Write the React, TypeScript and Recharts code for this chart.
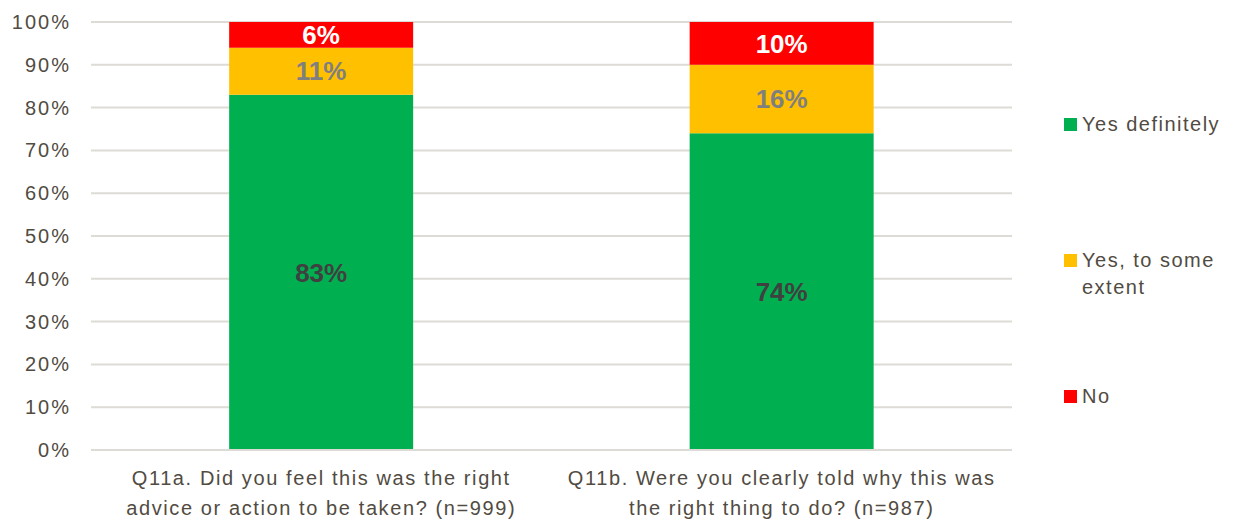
import React from 'react';
import { BarChart, Bar, XAxis, YAxis, CartesianGrid, LabelList } from 'recharts';

const questions = [
  ['Q11a. Did you feel this was the right', 'advice or action to be taken? (n=999)'],
  ['Q11b. Were you clearly told why this was', 'the right thing to do? (n=987)'],
];
const yesDefinitely = [83, 74];
const yesSomeExtent = [11, 16];
const no = [6, 10];
const yTicks = [0, 10, 20, 30, 40, 50, 60, 70, 80, 90, 100];

const FONT = '"Liberation Sans", Arial, sans-serif';
const TEXT = '#514b42';

const series = [
  { key: 'yes', name: 'Yes definitely', color: '#00b050', label: '#404040' },
  { key: 'some', name: 'Yes, to some extent', color: '#ffc000', label: '#7f7f7f' },
  { key: 'no', name: 'No', color: '#ff0000', label: '#ffffff' },
];

const data = questions.map((q, i) => ({
  name: String(i),
  yes: yesDefinitely[i],
  some: yesSomeExtent[i],
  no: no[i],
}));

const YTick = ({ y, payload }: any) => (
  <text x={71} y={y} dy={7} textAnchor="end" fill={TEXT} fontSize={20} fontFamily={FONT} letterSpacing={2}>
    {payload.value}%
  </text>
);

const XTick = ({ x, y, payload }: any) => {
  const lines = questions[Number(payload.value)];
  return (
    <text x={x} y={y} textAnchor="middle" fill={TEXT} fontSize={20} fontFamily={FONT} letterSpacing={1.6}>
      <tspan x={x} dy={27}>{lines[0]}</tspan>
      <tspan x={x} dy={30}>{lines[1]}</tspan>
    </text>
  );
};

// legend drawn beside the chart, Excel style
const LegendBox = () => {
  const items = [
    { s: series[0], top: 0, lines: ['Yes definitely'] },
    { s: series[1], top: 136, lines: ['Yes, to some', 'extent'] },
    { s: series[2], top: 272, lines: ['No'] },
  ];
  return (
    <div
      style={{
        position: 'absolute', left: 1064, top: 111, width: 171, height: 300,
        fontFamily: FONT, fontSize: 20, letterSpacing: 1.5, color: TEXT,
      }}
    >
      {items.map((it) => (
        <div key={it.s.key} style={{ position: 'absolute', left: 0, top: it.top, display: 'flex' }}>
          <div style={{ width: 13, height: 13, background: it.s.color, marginTop: 7, marginRight: 5 }} />
          <div style={{ lineHeight: '27px', whiteSpace: 'nowrap' }}>
            {it.lines.map((l) => (
              <div key={l}>{l}</div>
            ))}
          </div>
        </div>
      ))}
    </div>
  );
};

export default function App() {
  return (
    <div style={{ position: 'absolute', left: 0, top: 0, width: 1235, height: 520, background: '#fff' }}>
      <BarChart
        width={1235}
        height={520}
        data={data}
        margin={{ top: 22, right: 223, bottom: 0, left: 0 }}
        barCategoryGap="30%"
      >
        <CartesianGrid vertical={false} stroke="#dedbd6" strokeWidth={2} />
        <XAxis
          dataKey="name"
          axisLine={{ stroke: '#dedbd6', strokeWidth: 2 }}
          tickLine={false}
          tick={<XTick />}
          height={70}
          interval={0}
        />
        <YAxis
          domain={[0, 100]}
          ticks={yTicks}
          axisLine={false}
          tickLine={false}
          tick={<YTick />}
          width={91}
        />
        {series.map((s) => (
          <Bar key={s.key} dataKey={s.key} name={s.name} stackId="a" fill={s.color} isAnimationActive={false}>
            <LabelList
              dataKey={s.key}
              position="center"
              formatter={(v: any) => `${v}%`}
              fill={s.label}
              fontSize={26}
              fontWeight="bold"
              fontFamily={FONT}
            />
          </Bar>
        ))}
      </BarChart>
      <LegendBox />
    </div>
  );
}
